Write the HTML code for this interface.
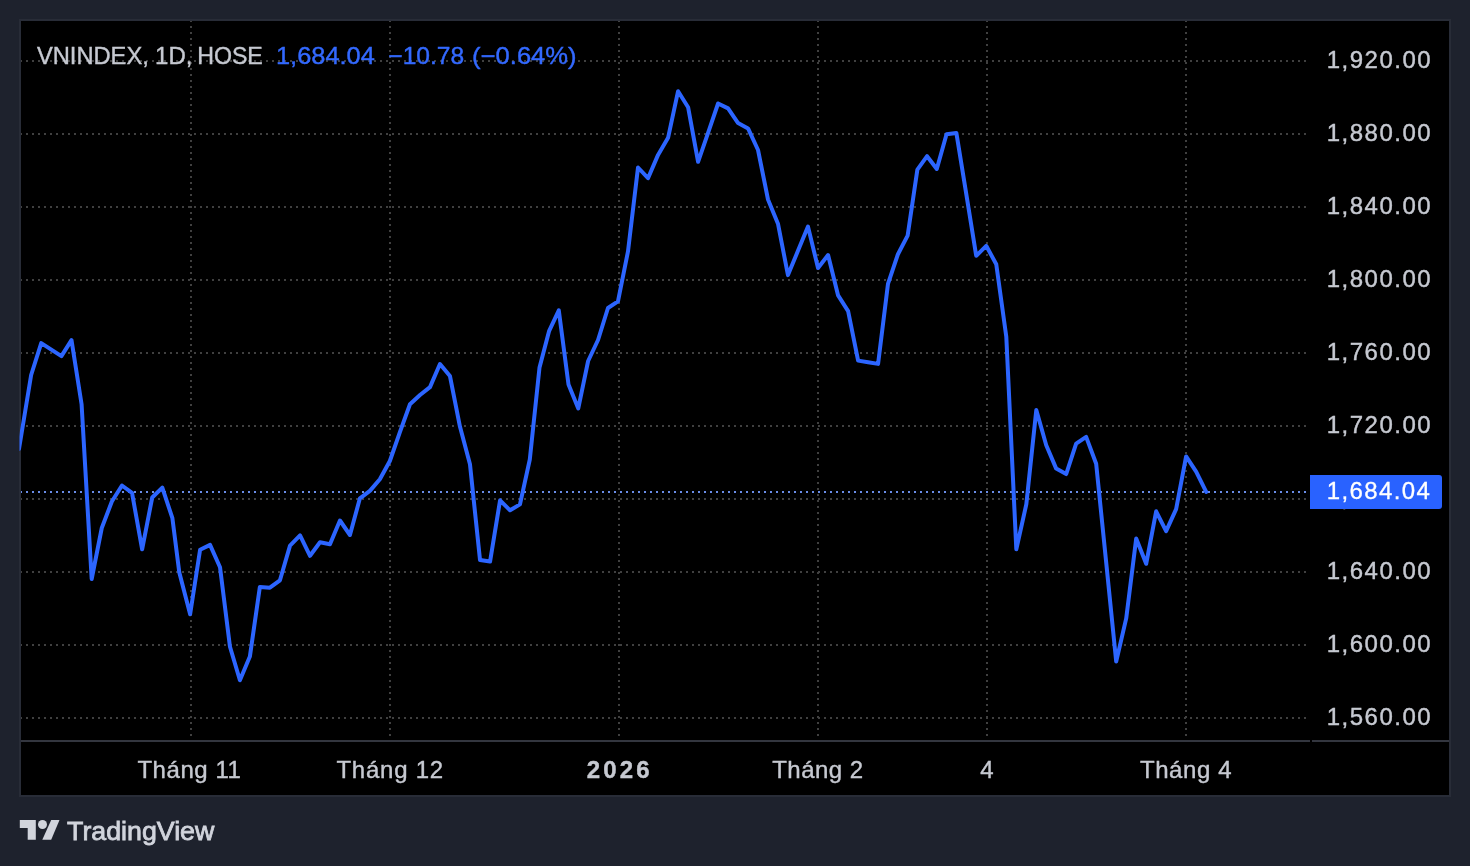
<!DOCTYPE html>
<html lang="vi"><head><meta charset="utf-8"><title>VNINDEX</title>
<style>html,body{margin:0;padding:0;background:#1e222d;width:1470px;height:866px;overflow:hidden}
text{font-family:"Liberation Sans",sans-serif}</style></head>
<body>
<svg width="1470" height="866" viewBox="0 0 1470 866" style="display:block;will-change:transform">
<defs><clipPath id="pane"><rect x="21" y="21" width="1289" height="719"/></clipPath><clipPath id="ser"><rect x="19.5" y="21" width="1290.5" height="719"/></clipPath></defs>
<rect width="1470" height="866" fill="#1e222d"/>
<rect x="20" y="20" width="1430" height="776" fill="#000" stroke="#282c37" stroke-width="2"/>
<g clip-path="url(#pane)" stroke="#404040" stroke-width="2" stroke-dasharray="2 4" fill="none">
<line x1="20" y1="61" x2="1310" y2="61"/>
<line x1="20" y1="134" x2="1310" y2="134"/>
<line x1="20" y1="207" x2="1310" y2="207"/>
<line x1="20" y1="280" x2="1310" y2="280"/>
<line x1="20" y1="353" x2="1310" y2="353"/>
<line x1="20" y1="426" x2="1310" y2="426"/>
<line x1="20" y1="499" x2="1310" y2="499"/>
<line x1="20" y1="572" x2="1310" y2="572"/>
<line x1="20" y1="645" x2="1310" y2="645"/>
<line x1="20" y1="718" x2="1310" y2="718"/>
<line x1="191" y1="20" x2="191" y2="740"/>
<line x1="390" y1="20" x2="390" y2="740"/>
<line x1="619" y1="20" x2="619" y2="740"/>
<line x1="818" y1="20" x2="818" y2="740"/>
<line x1="987" y1="20" x2="987" y2="740"/>
<line x1="1186" y1="20" x2="1186" y2="740"/>
</g>
<line x1="20" y1="492" x2="1310" y2="492" stroke="#6a8de8" stroke-width="2" stroke-dasharray="2 4" clip-path="url(#pane)"/>
<polyline clip-path="url(#ser)" points="19.0,449.0 31.14,375 41.23,343.1 51.32,349.6 61.41,356.1 71.5,340.1 81.59,404.3 91.68,579 101.77,528 111.86,501.5 121.95,485.5 132.04,492.9 142.13,549.3 152.22,497.5 162.31,487.6 172.4,518.2 179.3,572.5 190.13,614.3 200.09,549.7 210.06,544.9 220.02,567.2 229.97,646.8 239.91,680.3 249.87,656.6 259.85,587 269.89,587.7 279.95,580.3 290.02,545.6 300.04,535.4 310.03,555.8 320.0,542.3 329.97,544.2 339.95,520.5 349.94,535 359.92,498.3 369.88,490.9 379.85,479.2 389.85,461 399.9,432.2 409.96,404.3 419.99,395 429.99,387.1 439.96,364 449.94,376 459.94,426.6 469.97,464.2 480.02,560 490.06,561.6 500.08,500.3 510.06,510.3 519.98,504.4 529.8,459.5 539.52,367.4 549.17,330.8 558.81,310.4 568.51,384.5 578.28,408.4 588.13,361 598.03,340 607.98,308 617.97,301.4 627.99,251.4 638.01,167.5 648.03,178.2 658.05,154.9 668.07,137.8 678.08,91.2 688.09,107.2 698.09,161.8 708.08,132.9 718.08,103.5 728.07,108.4 738.07,123.1 748.06,128.4 758.03,150 768.0,199.5 777.97,223.7 787.96,275.1 797.97,250.8 808.0,226.6 818.03,268 828.07,255 838.1,295.4 848.12,311.1 858.12,360.6 868.11,362.2 878.07,363.9 887.97,283.9 897.82,254.5 907.61,235.7 917.37,169.6 927.08,156.2 936.8,169 946.54,134.2 956.36,132.9 966.25,193.9 976.22,255.8 986.23,245.8 996.26,264.3 1006.29,336.7 1016.31,549.2 1026.32,504.3 1036.3,410 1046.25,445.3 1056.2,468.6 1066.16,474.1 1076.14,443.7 1086.15,436.9 1096.17,463.7 1106.19,562.5 1116.2,661.6 1126.21,618.4 1136.2,538.6 1146.18,563.8 1156.15,511.3 1166.13,531.2 1176.12,509.2 1186.12,456.4 1196.13,471.6 1206.2,491.9" fill="none" stroke="#2c65ff" stroke-width="4" stroke-linejoin="round" stroke-linecap="round"/>
<rect x="21" y="740" width="1289" height="2" fill="#33363f"/>
<rect x="1312" y="740" width="137" height="2" fill="#33363f"/>
<text x="36.9" y="63.8" font-family="Liberation Sans, sans-serif" font-size="24" fill="#c6c9d1" textLength="111.93" lengthAdjust="spacingAndGlyphs" stroke="#c6c9d1" stroke-width="0.4">VNINDEX,</text>
<text x="155.1" y="63.8" font-family="Liberation Sans, sans-serif" font-size="24" fill="#c6c9d1" textLength="37.36" lengthAdjust="spacingAndGlyphs" stroke="#c6c9d1" stroke-width="0.4">1D,</text>
<text x="197.2" y="63.8" font-family="Liberation Sans, sans-serif" font-size="24" fill="#c6c9d1" textLength="65.61" lengthAdjust="spacingAndGlyphs" stroke="#c6c9d1" stroke-width="0.4">HOSE</text>
<text x="276.0" y="63.8" font-family="Liberation Sans, sans-serif" font-size="24" fill="#3369ff" textLength="98.76" lengthAdjust="spacingAndGlyphs" stroke="#3369ff" stroke-width="0.4">1,684.04</text>
<text x="388.3" y="63.8" font-family="Liberation Sans, sans-serif" font-size="24" fill="#3369ff" textLength="75.93" lengthAdjust="spacingAndGlyphs" stroke="#3369ff" stroke-width="0.4">−10.78</text>
<text x="472.1" y="63.8" font-family="Liberation Sans, sans-serif" font-size="24" fill="#3369ff" textLength="104.5" lengthAdjust="spacingAndGlyphs" stroke="#3369ff" stroke-width="0.4">(−0.64%)</text>
<text x="1326.7" y="68.3" font-family="Liberation Sans, sans-serif" font-size="24" fill="#c6c9d1" stroke="#c6c9d1" stroke-width="0.4" textLength="104.02" lengthAdjust="spacing">1,920.00</text>
<text x="1326.7" y="141.3" font-family="Liberation Sans, sans-serif" font-size="24" fill="#c6c9d1" stroke="#c6c9d1" stroke-width="0.4" textLength="104.02" lengthAdjust="spacing">1,880.00</text>
<text x="1326.7" y="214.3" font-family="Liberation Sans, sans-serif" font-size="24" fill="#c6c9d1" stroke="#c6c9d1" stroke-width="0.4" textLength="104.02" lengthAdjust="spacing">1,840.00</text>
<text x="1326.7" y="287.3" font-family="Liberation Sans, sans-serif" font-size="24" fill="#c6c9d1" stroke="#c6c9d1" stroke-width="0.4" textLength="104.02" lengthAdjust="spacing">1,800.00</text>
<text x="1326.7" y="360.3" font-family="Liberation Sans, sans-serif" font-size="24" fill="#c6c9d1" stroke="#c6c9d1" stroke-width="0.4" textLength="104.02" lengthAdjust="spacing">1,760.00</text>
<text x="1326.7" y="433.3" font-family="Liberation Sans, sans-serif" font-size="24" fill="#c6c9d1" stroke="#c6c9d1" stroke-width="0.4" textLength="104.02" lengthAdjust="spacing">1,720.00</text>
<text x="1326.7" y="506.3" font-family="Liberation Sans, sans-serif" font-size="24" fill="#c6c9d1" stroke="#c6c9d1" stroke-width="0.4" textLength="104.02" lengthAdjust="spacing">1,680.00</text>
<text x="1326.7" y="579.3" font-family="Liberation Sans, sans-serif" font-size="24" fill="#c6c9d1" stroke="#c6c9d1" stroke-width="0.4" textLength="104.02" lengthAdjust="spacing">1,640.00</text>
<text x="1326.7" y="652.3" font-family="Liberation Sans, sans-serif" font-size="24" fill="#c6c9d1" stroke="#c6c9d1" stroke-width="0.4" textLength="104.02" lengthAdjust="spacing">1,600.00</text>
<text x="1326.7" y="725.3" font-family="Liberation Sans, sans-serif" font-size="24" fill="#c6c9d1" stroke="#c6c9d1" stroke-width="0.4" textLength="104.02" lengthAdjust="spacing">1,560.00</text>
<path d="M1310 475 H1439 a3 3 0 0 1 3 3 V506 a3 3 0 0 1 -3 3 H1310 Z" fill="#2962ff"/>
<text x="1326.7" y="499" font-family="Liberation Sans, sans-serif" font-size="24" fill="#fff" stroke="#fff" stroke-width="0.3" textLength="103.22" lengthAdjust="spacing">1,684.04</text>
<text x="137.4" y="777.8" font-family="Liberation Sans, sans-serif" font-size="24" fill="#c6c9d1" textLength="103.54" lengthAdjust="spacing" stroke="#c6c9d1" stroke-width="0.4">Tháng 11</text>
<text x="336.4" y="777.8" font-family="Liberation Sans, sans-serif" font-size="24" fill="#c6c9d1" textLength="106.82" lengthAdjust="spacing" stroke="#c6c9d1" stroke-width="0.4">Tháng 12</text>
<text x="586.8" y="777.8" font-family="Liberation Sans, sans-serif" font-size="24" fill="#c6c9d1" textLength="62.89" lengthAdjust="spacing" font-weight="bold" stroke="#c6c9d1" stroke-width="0.4">2026</text>
<text x="772.2" y="777.8" font-family="Liberation Sans, sans-serif" font-size="24" fill="#c6c9d1" textLength="90.88" lengthAdjust="spacing" stroke="#c6c9d1" stroke-width="0.4">Tháng 2</text>
<text x="980.2" y="777.8" font-family="Liberation Sans, sans-serif" font-size="24" fill="#c6c9d1" textLength="13.36" lengthAdjust="spacing" stroke="#c6c9d1" stroke-width="0.4">4</text>
<text x="1139.9" y="777.8" font-family="Liberation Sans, sans-serif" font-size="24" fill="#c6c9d1" textLength="91.68" lengthAdjust="spacing" stroke="#c6c9d1" stroke-width="0.4">Tháng 4</text>
<g fill="#d1d4dc"><path d="M19.8 819.9H35.8V839.85H27.7V828H19.8Z"/><circle cx="42.5" cy="824.5" r="4.5"/><path d="M51.2 819.9H59.5L51.2 839.85H42.3Z"/></g>
<text x="67.1" y="839.9" font-family="Liberation Sans, sans-serif" font-size="26.5" fill="#d1d4dc" textLength="147.23" lengthAdjust="spacingAndGlyphs" stroke="#d1d4dc" stroke-width="0.8">TradingView</text>
</svg>
</body></html>
